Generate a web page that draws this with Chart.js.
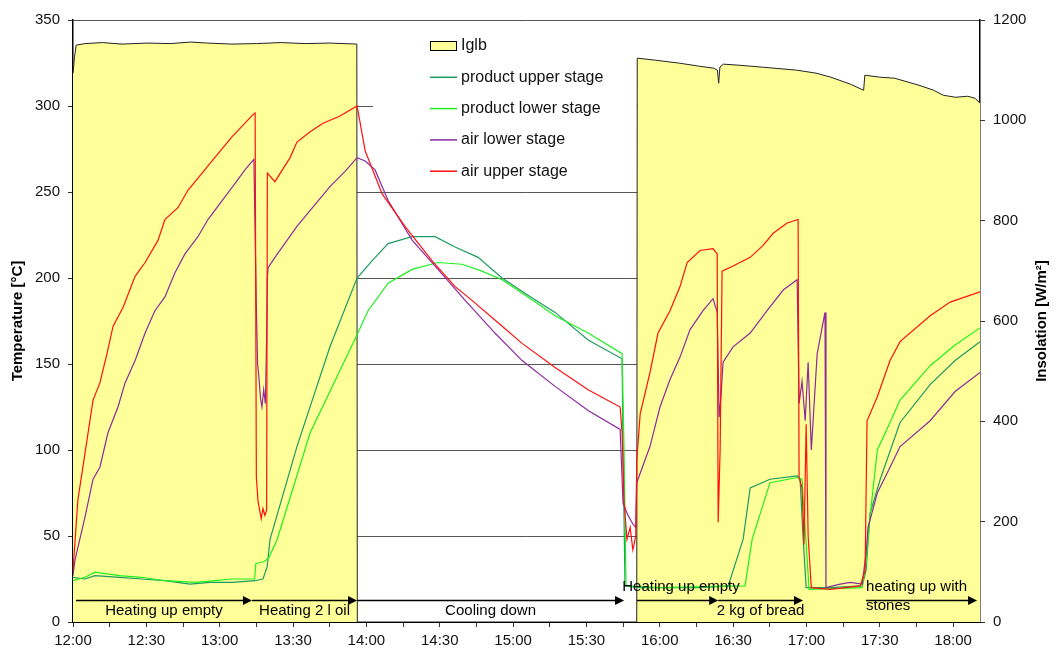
<!DOCTYPE html>
<html>
<head>
<meta charset="utf-8">
<script src="https://cdn.jsdelivr.net/npm/chart.js@4.4.1/dist/chart.umd.min.js"></script>
<style>
  html, body { margin: 0; padding: 0; background: #fff; }
  #wrap { width: 1055px; height: 655px; }
</style>
</head>
<body>
<div id="wrap"><canvas id="ovenChart" width="1055" height="655"></canvas></div>
<script>
// x values are minutes after 12:00
const timeLabels = ['12:00', '12:30', '13:00', '13:30', '14:00', '14:30', '15:00',
  '15:30', '16:00', '16:30', '17:00', '17:30', '18:00'];

// global insolation [W/m2], right axis
const iglb = [
  [0, 1094], [0.6, 1125], [1.3, 1150], [5, 1153], [12, 1155], [20, 1152], [30, 1154],
  [40, 1153], [48, 1156], [55, 1154], [65, 1152], [75, 1153], [85, 1155], [95, 1153],
  [105, 1154], [116.1, 1152], [116.3, 0], [230.6, 0], [230.8, 1124], [238, 1120],
  [248, 1114], [256, 1108], [262, 1104], [263.6, 1100], [264.1, 1074], [264.6, 1106],
  [266, 1112], [272, 1110], [282, 1106], [296, 1100], [304, 1094], [310, 1086],
  [318, 1072], [323.4, 1060], [323.9, 1090], [330, 1086], [336, 1084], [346, 1070],
  [352, 1060], [356, 1050], [361, 1046], [366, 1048], [369, 1044], [371, 1034]
];

// temperatures [°C], left axis
const productUpper = [
  [0, 26], [4.9, 25], [9, 27], [19, 26], [28, 25], [37.6, 24], [47.9, 22], [56, 23],
  [65, 23], [74.5, 24], [77.7, 25], [79.4, 32], [80.6, 48], [91.6, 102], [105.1, 160],
  [116.2, 200], [122.3, 210], [128.9, 220], [138.7, 224], [148.1, 224], [156.3, 218],
  [165.7, 212], [175.5, 200], [186.1, 190], [197.2, 180], [210.7, 164], [224.6, 153],
  [225, 100], [225.8, 21], [232, 20], [256.5, 20], [268, 21], [274.1, 48], [277, 78],
  [285.1, 83], [296.2, 85], [297.4, 83], [298.6, 50], [299.9, 20], [309.7, 20],
  [322.8, 21], [324.4, 30], [326, 63], [330.2, 83], [338.3, 116], [350.6, 138],
  [360.8, 152], [371, 163]
];
const productLower = [
  [0, 24], [4.9, 26], [9, 29], [19, 27], [28, 26], [37.6, 24], [50, 23], [58, 24],
  [65, 25], [74.3, 25], [74.8, 34], [78, 35], [80, 37], [83.5, 48], [97, 110],
  [116.2, 167], [120.7, 181], [128.9, 197], [138.7, 205], [149.3, 209], [159.1, 208],
  [167.3, 204], [175.5, 199], [186.1, 189], [197.2, 178], [210.7, 168], [224.6, 156],
  [225.4, 100], [226.2, 21], [240, 20], [274.9, 21], [277.8, 48], [285.1, 81],
  [296.2, 84], [298.2, 83], [299.9, 45], [301.1, 19], [322.8, 20], [324.4, 35],
  [326, 61], [329, 100], [334.2, 116], [338.3, 129], [350.6, 149], [360.8, 161], [371, 171]
];
const airLower = [
  [0, 27], [0.8, 36], [4.9, 61], [8.2, 83], [11, 90], [14.3, 110], [18.4, 125],
  [21.3, 139], [25.4, 152], [29.5, 168], [33.5, 181], [37.6, 189], [41.7, 203],
  [45.8, 214], [51.1, 224], [55.2, 234], [61, 245], [66.3, 255], [70.4, 263], [74, 269],
  [75, 183], [75.5, 150], [76, 143], [76.7, 130], [77.3, 125], [78, 135], [78.7, 127],
  [79.2, 165], [79.5, 200], [79.8, 206], [82.6, 212], [91.6, 230], [105, 253],
  [111.3, 262], [116.2, 270], [119.5, 268], [123.5, 263], [128.9, 245], [138.7, 222],
  [149.3, 205], [160.4, 187], [172.6, 168], [183.7, 152], [197.2, 137], [210.7, 123],
  [223.8, 112], [225, 69], [227, 62], [229, 57], [230.2, 55], [230.6, 81], [236, 102],
  [240.1, 125], [244.2, 141], [248.3, 154], [252.4, 170], [257.7, 181], [261.8, 188],
  [263.5, 180], [264.3, 119], [265, 130], [265.9, 151], [270, 160], [277, 168],
  [283.9, 181], [290.5, 193], [296.2, 199], [297, 127], [298.2, 140], [299.5, 117],
  [300.7, 151], [302, 100], [304.4, 156], [307.6, 180], [308, 20], [313.8, 22],
  [317.9, 23], [322.8, 22], [324.4, 40], [325.2, 55], [329, 75], [334.2, 90],
  [338.3, 102], [350.6, 117], [360.8, 134], [371, 145]
];
const airUpper = [
  [0, 30], [2, 71], [4.9, 98], [8.2, 129], [11, 139], [13.9, 156], [16.4, 172],
  [20.5, 183], [25.4, 201], [29.5, 209], [34.8, 222], [37.6, 234], [43, 241], [47, 251],
  [52.8, 261], [58, 270], [65, 282], [69, 288], [73.6, 295], [74.5, 296], [75, 84],
  [75.7, 70], [77, 60], [77.7, 66], [78.5, 62], [79.2, 65], [79.5, 261], [82.6, 256],
  [88.8, 270], [91.6, 279], [97, 285], [102.3, 290], [109, 294], [116.2, 300],
  [119.5, 274], [126.4, 249], [135.8, 230], [146.9, 210], [156.3, 195], [163.2, 187],
  [173.9, 174], [183.7, 162], [197.2, 148], [210.7, 135], [223.8, 125], [224.6, 110],
  [225.4, 70], [226.6, 48], [227.9, 55], [229, 42], [230.2, 50], [230.6, 94], [232, 121],
  [236, 145], [239.3, 168], [244.2, 181], [248.3, 195], [251.2, 209], [256.5, 216],
  [261.8, 217], [263.5, 214], [263.9, 58], [264.7, 100], [265.5, 204], [270, 207],
  [277, 212], [282.3, 219], [286.4, 226], [292.1, 232], [296.6, 234], [297, 84],
  [298.2, 78], [299, 45], [299.9, 115], [300.7, 50], [302, 20], [309.7, 19],
  [315.8, 20], [322, 21], [324, 30], [324.8, 117], [329, 131], [334.2, 152],
  [338.3, 163], [350.6, 178], [358.8, 186], [371, 192]
];

// process phases drawn as arrows along the bottom: [start, end, text, place]
const phases = [
  [1.2, 73.2, 'Heating up empty', 'below'],
  [73.2, 116.2, 'Heating 2 l oil', 'below'],
  [116.2, 225.4, 'Cooling down', 'below'],
  [230.7, 263.9, 'Heating up empty', 'above'],
  [263.9, 298.6, '2 kg of bread', 'below'],
  [324.4, 369.8, 'heating up with|stones', 'left']
];

const FONT = '"Liberation Sans", Arial, sans-serif';

function pts(arr) {
  return arr.map(p => ({x: p[0], y: p[1]}));
}

const decorations = {
  id: 'decorations',
  beforeDatasetsDraw(chart) {
    // the legend sits on a white box that hides the grid behind it
    const {ctx, scales: {x}} = chart;
    const x0 = x.getPixelForValue(122.7), x1 = x.getPixelForValue(230.6);
    ctx.save();
    ctx.fillStyle = '#fff';
    ctx.fillRect(x0, 30, x1 - x0, 150);
    ctx.restore();
  },
  afterDatasetsDraw(chart) {
    const {ctx, scales: {x, y}} = chart;
    const ay = Math.round(y.getPixelForValue(13)) + 0.5;
    ctx.save();
    ctx.strokeStyle = '#000';
    ctx.fillStyle = '#000';
    ctx.lineWidth = 1.5;
    ctx.font = '15px ' + FONT;
    ctx.textBaseline = 'middle';
    phases.forEach(ph => {
      const xs = x.getPixelForValue(ph[0]), xe = x.getPixelForValue(ph[1]);
      ctx.beginPath();
      ctx.moveTo(xs, ay);
      ctx.lineTo(xe - 7, ay);
      ctx.stroke();
      ctx.beginPath();
      ctx.moveTo(xe, ay);
      ctx.lineTo(xe - 9, ay - 4.5);
      ctx.lineTo(xe - 9, ay + 4.5);
      ctx.closePath();
      ctx.fill();
      if (ph[3] === 'left') {
        const lines = ph[2].split('|');
        ctx.textAlign = 'left';
        ctx.fillText(lines[0], xs, ay - 14);
        ctx.fillText(lines[1], xs, ay + 5);
      } else {
        ctx.textAlign = 'center';
        const cx = ph[3] === 'above' ? x.getPixelForValue(248.7) : (xs + xe) / 2;
        ctx.fillText(ph[2], cx, ph[3] === 'above' ? ay - 14 : ay + 10);
      }
    });
    ctx.restore();
  },
  afterDraw(chart) {
    const {ctx, chartArea: area} = chart;
    ctx.save();
    // legend
    ctx.font = '16px ' + FONT;
    ctx.textBaseline = 'middle';
    ctx.textAlign = 'left';
    chart.data.datasets.forEach((ds, i) => {
      const yy = 46 + i * 31.3;
      if (i === 0) {
        ctx.fillStyle = ds.backgroundColor;
        ctx.fillRect(430, yy - 4.5, 26, 9);
        ctx.strokeStyle = '#000';
        ctx.lineWidth = 1;
        ctx.strokeRect(430.5, yy - 4.5, 26, 9);
      } else {
        ctx.strokeStyle = ds.borderColor;
        ctx.lineWidth = 1.5;
        ctx.beginPath();
        ctx.moveTo(430, yy);
        ctx.lineTo(457, yy);
        ctx.stroke();
      }
      ctx.fillStyle = '#111';
      ctx.fillText(ds.label, 461, yy);
    });
    // axis titles, both read bottom to top
    ctx.font = 'bold 15px ' + FONT;
    ctx.fillStyle = '#000';
    ctx.textAlign = 'center';
    const midY = (area.top + area.bottom) / 2;
    [[18, 'Temperature [°C]'], [1042, 'Insolation [W/m²]']].forEach(t => {
      ctx.save();
      ctx.translate(t[0], midY);
      ctx.rotate(-Math.PI / 2);
      ctx.fillText(t[1], 0, 0);
      ctx.restore();
    });
    ctx.restore();
  }
};

const tickFont = {family: FONT, size: 15};

new Chart(document.getElementById('ovenChart'), {
  type: 'line',
  data: {
    datasets: [{
      label: 'Iglb',
      data: pts(iglb),
      yAxisID: 'yIns',
      borderColor: '#222',
      backgroundColor: '#ffff99',
      borderWidth: 1,
      fill: 'origin',
      order: 10
    }, {
      label: 'product upper stage',
      data: pts(productUpper),
      borderColor: '#1e9a62',
      order: 4
    }, {
      label: 'product lower stage',
      data: pts(productLower),
      borderColor: '#1ef01e',
      order: 3
    }, {
      label: 'air lower stage',
      data: pts(airLower),
      borderColor: '#8c2a9e',
      order: 2
    }, {
      label: 'air upper stage',
      data: pts(airUpper),
      borderColor: '#ff1010',
      order: 1
    }]
  },
  options: {
    responsive: false,
    animation: false,
    layout: {padding: {top: 20, left: 0, right: 0, bottom: 0}},
    elements: {
      point: {radius: 0},
      line: {tension: 0, borderWidth: 1.2, fill: false}
    },
    plugins: {
      legend: {display: false},
      tooltip: {enabled: false}
    },
    scales: {
      x: {
        type: 'linear',
        min: 0,
        max: 371,
        afterFit: s => { s.height = 33; },
        border: {color: '#000', width: 1},
        grid: {drawOnChartArea: false, tickLength: 5, tickColor: '#333'},
        ticks: {
          stepSize: 15,
          includeBounds: false,
          autoSkip: false,
          maxRotation: 0,
          padding: 5,
          color: '#111',
          font: tickFont,
          callback: v => (v % 30 === 0 ? timeLabels[v / 30] : '')
        }
      },
      y: {
        position: 'left',
        min: 0,
        max: 350,
        afterFit: s => { s.width = 73; },
        border: {color: '#000', width: 1.5},
        grid: {color: '#555', tickLength: 5, tickColor: '#333'},
        ticks: {stepSize: 50, padding: 8, color: '#111', font: tickFont, callback: v => String(v)}
      },
      yIns: {
        position: 'right',
        min: 0,
        max: 1200,
        afterFit: s => { s.width = 75; },
        border: {color: '#000', width: 1.5},
        grid: {drawOnChartArea: false, tickLength: 5, tickColor: '#333'},
        ticks: {stepSize: 200, padding: 8, color: '#111', font: tickFont, callback: v => String(v)}
      }
    }
  },
  plugins: [decorations]
});
</script>
</body>
</html>
